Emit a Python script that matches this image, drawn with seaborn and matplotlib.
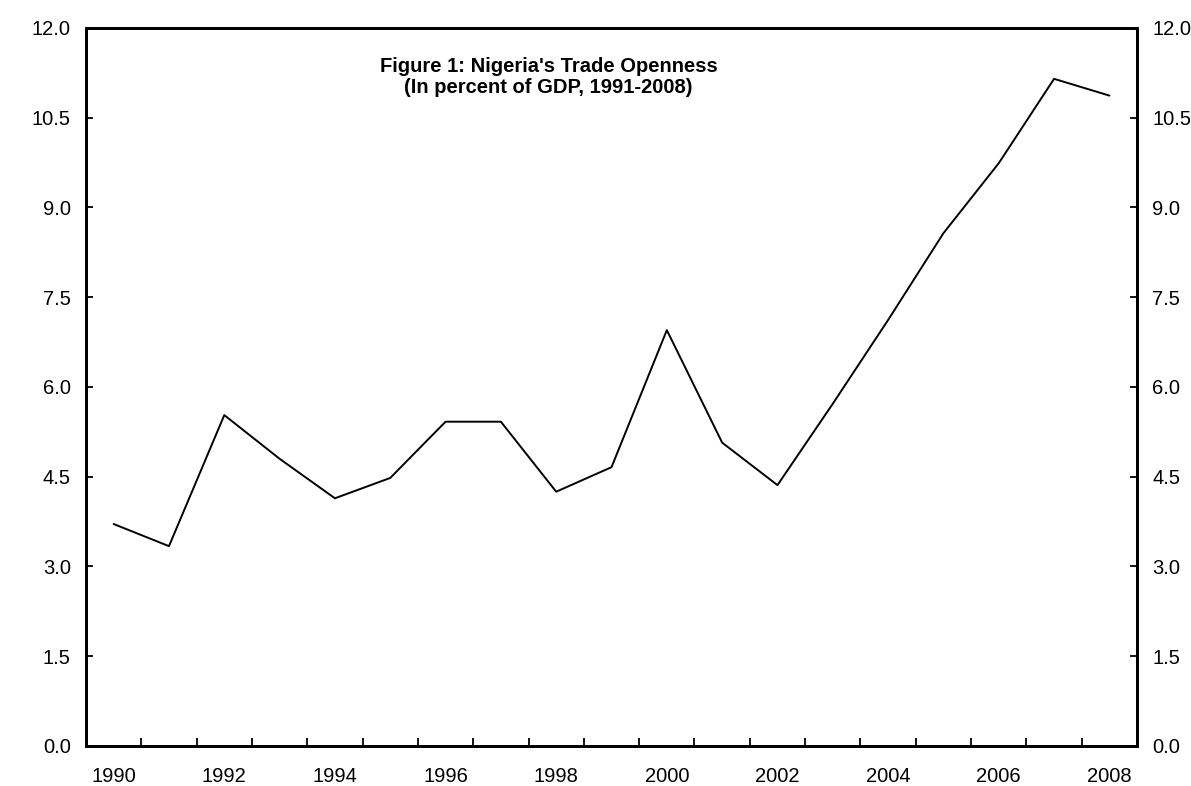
import numpy as np
import matplotlib
matplotlib.use("Agg")
import matplotlib.pyplot as plt
import seaborn as sns
from matplotlib.ticker import FixedLocator

# data (trade openness, % of GDP)
years = [1990, 1991, 1992, 1993, 1994, 1995, 1996, 1997, 1998, 1999,
         2000, 2001, 2002, 2003, 2004, 2005, 2006, 2007, 2008]
openness = [3.71, 3.34, 5.53, 4.80, 4.14, 4.48, 5.42, 5.42, 4.25, 4.66,
            6.95, 5.07, 4.36, 5.72, 7.12, 8.57, 9.74, 11.15, 10.87]
label_years = [1990, 1992, 1994, 1996, 1998, 2000, 2002, 2004, 2006, 2008]
y_ticks = [0.0, 1.5, 3.0, 4.5, 6.0, 7.5, 9.0, 10.5, 12.0]

sns.set_theme(style="white")
plt.rcParams['font.family'] = ['Liberation Sans', 'DejaVu Sans']
plt.rcParams['text.color'] = 'black'
plt.rcParams['xtick.color'] = 'black'
plt.rcParams['ytick.color'] = 'black'

fig = plt.figure(figsize=(11.91, 7.86), dpi=100)
ax = fig.add_axes([0.0722, 0.0509, 0.8825, 0.9135])

sns.lineplot(x=years, y=openness, ax=ax, color='black', linewidth=1.4)

ax.set_xlim(1989.5, 2008.5)
ax.set_ylim(0, 12)

# labels centred on the years, tick marks between years
ax.set_xticks(label_years)
ax.set_xticklabels([str(y) for y in label_years], fontsize=14.5)
ax.xaxis.set_minor_locator(FixedLocator([y + 0.5 for y in years[:-1]]))
ax.tick_params(axis='x', which='major', length=0, pad=15)
ax.tick_params(axis='x', which='minor', direction='in', length=6, width=1.3,
               bottom=True)

ax.set_yticks(y_ticks)
ax.set_yticklabels([f"{v:.1f}" for v in y_ticks], fontsize=14.5)
ax.tick_params(axis='y', direction='in', length=5, width=1.3, pad=11, left=True)

for s in ax.spines.values():
    s.set_color('black')
    s.set_linewidth(2)

# mirrored axis on the right
ax2 = ax.twinx()
ax2.set_ylim(0, 12)
ax2.set_yticks(y_ticks)
ax2.set_yticklabels([f"{v:.1f}" for v in y_ticks], fontsize=14.5)
ax2.tick_params(axis='y', direction='in', length=5, width=1.3, pad=11, right=True)
for s in ax2.spines.values():
    s.set_color('black')
    s.set_linewidth(2)
ax2.grid(False)

ax.set_xlabel('')
ax.set_ylabel('')

ax.text(0.44, 0.96, "Figure 1: Nigeria's Trade Openness\n(In percent of GDP, 1991-2008)",
        transform=ax.transAxes, ha='center', va='top', fontsize=14.5,
        fontweight='bold', linespacing=1.12, color='black')

fig.savefig('out.png', dpi=100)
